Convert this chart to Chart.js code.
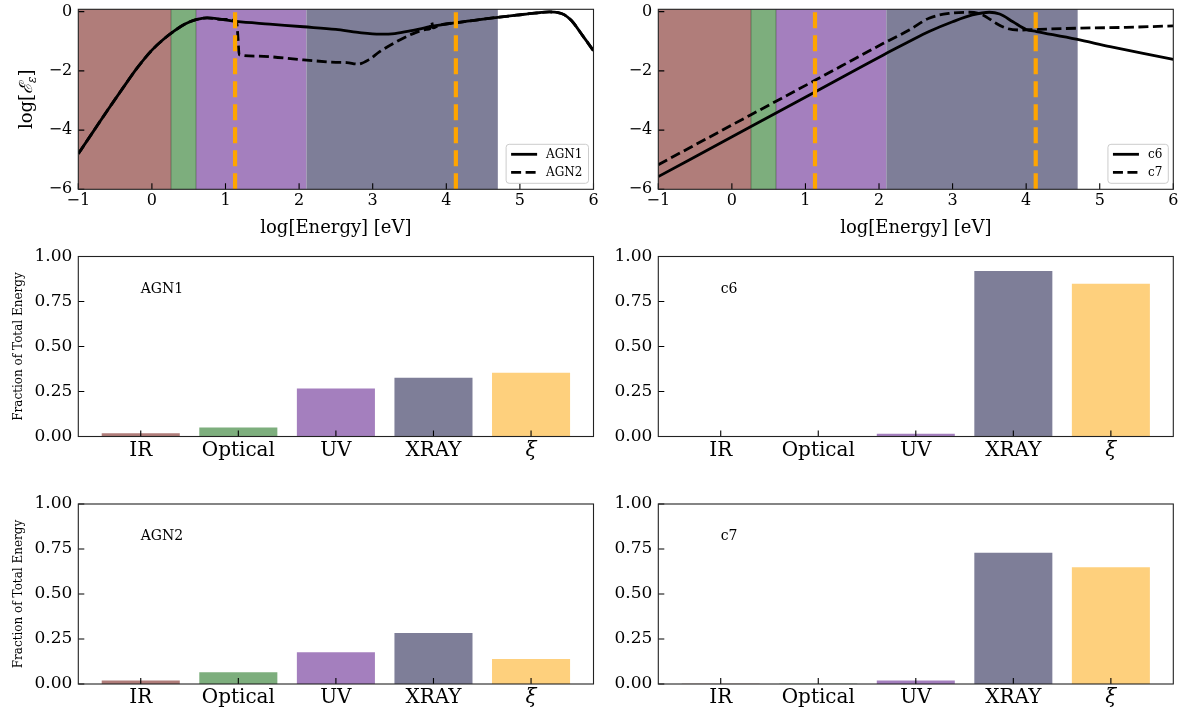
<!DOCTYPE html>
<html>
<head>
<meta charset="utf-8">
<title>SED bands and energy fractions</title>
<script src="https://cdn.jsdelivr.net/npm/chart.js@4.4.1/dist/chart.umd.min.js"></script>
<style>
  body { margin: 0; background: #fff; }
  #figure { position: relative; width: 1182px; height: 714px; overflow: hidden; }
  #figure canvas { position: absolute; }
</style>
</head>
<body>
<div id="figure">
  <canvas id="sedAgn" width="600" height="245" style="left:0;top:0"></canvas>
  <canvas id="sedCloudy" width="592" height="245" style="left:590px;top:0"></canvas>
  <canvas id="fracAgn1" width="600" height="245" style="left:0;top:245px"></canvas>
  <canvas id="fracC6" width="592" height="245" style="left:590px;top:245px"></canvas>
  <canvas id="fracAgn2" width="600" height="224" style="left:0;top:490px"></canvas>
  <canvas id="fracC7" width="592" height="224" style="left:590px;top:490px"></canvas>
</div>
<script>
const SERIF = '"DejaVu Serif", "Liberation Serif", serif'

const energyTicks = [-1, 0, 1, 2, 3, 4, 5, 6]
const sedTicks = [-6, -4, -2, 0]
const fractionTicks = [0, 0.25, 0.5, 0.75, 1]
const energyRange = [-1, 6]
const sedRange = [-6, 0.08]

const bandNames = ['IR', 'Optical', 'UV', 'XRAY', 'ξ']
const bandColors = ['#b07d7a', '#7dae7d', '#a47fbe', '#7e7e98', '#fed07d']
// band limits in log eV: IR | Optical | UV | XRAY
const bandEdges = [-1, 0.26, 0.6, 2.1, 4.7]
// ionisation parameter window
const xiLimits = [1.13, 4.13]

const agn1Energy = [-1.0, -0.8, -0.6, -0.4, -0.2, 0.0, 0.15, 0.3, 0.45, 0.6, 0.75, 0.95, 1.15, 1.6, 2.06, 2.5, 2.8, 3.1, 3.3, 3.55, 3.8, 4.14, 4.45, 4.7, 4.95, 5.2, 5.4, 5.52, 5.6, 5.7, 5.85, 6.0]
const agn1Flux = [-4.80, -4.06, -3.32, -2.60, -1.90, -1.30, -0.95, -0.66, -0.42, -0.27, -0.21, -0.26, -0.33, -0.42, -0.51, -0.60, -0.70, -0.76, -0.74, -0.63, -0.50, -0.37, -0.27, -0.19, -0.12, -0.05, -0.01, -0.03, -0.10, -0.30, -0.80, -1.32]

const agn2Energy = [-1.0, -0.8, -0.6, -0.4, -0.2, 0.0, 0.15, 0.3, 0.45, 0.6, 0.75, 0.95, 1.15, 1.17, 1.185, 1.4, 2.06, 2.5, 2.65, 2.8, 2.95, 3.09, 3.32, 3.55, 3.73, 3.78, 3.8, 3.82, 3.9, 4.14, 4.45, 4.7, 4.95, 5.2, 5.4, 5.52, 5.6, 5.7, 5.85, 6.0]
const agn2Flux = [-4.80, -4.06, -3.32, -2.60, -1.90, -1.30, -0.95, -0.66, -0.42, -0.27, -0.21, -0.26, -0.33, -0.90, -1.45, -1.50, -1.63, -1.71, -1.72, -1.77, -1.62, -1.36, -1.02, -0.74, -0.60, -0.57, -0.34, -0.55, -0.46, -0.37, -0.27, -0.19, -0.12, -0.05, -0.01, -0.03, -0.10, -0.30, -0.80, -1.32]

const c6Energy = [-1.0, 0.26, 1.13, 2.06, 2.41, 2.68, 3.0, 3.27, 3.5, 3.64, 3.82, 4.0, 4.14, 4.68, 5.14, 5.59, 6.0]
const c6Flux = [-5.57, -3.88, -2.71, -1.46, -1.01, -0.67, -0.34, -0.11, -0.02, -0.08, -0.34, -0.60, -0.67, -0.93, -1.18, -1.41, -1.61]

const c7Energy = [-1.0, 0.26, 1.13, 2.06, 2.41, 2.68, 2.95, 3.23, 3.41, 3.59, 3.73, 3.91, 4.14, 4.68, 5.36, 6.0]
const c7Flux = [-5.17, -3.48, -2.32, -1.07, -0.62, -0.22, -0.06, -0.02, -0.11, -0.39, -0.56, -0.62, -0.60, -0.56, -0.53, -0.48]

const agn1Fraction = [0.018, 0.050, 0.266, 0.327, 0.354]
const c6Fraction = [0.001, 0.001, 0.015, 0.919, 0.849]
const agn2Fraction = [0.020, 0.065, 0.176, 0.284, 0.139]
const c7Fraction = [0.001, 0.001, 0.020, 0.729, 0.649]

Chart.defaults.font.family = SERIF
Chart.defaults.color = '#000'

const minus = v => String(v).replace('-', '\u2212')

// pin the plot box to fixed pixel edges inside each canvas
function boxLayout(canvas, area){
    return {
        padding: {top: area.top, right: canvas.width - area.right, left: 0, bottom: 0},
        yFit: scale => {
            scale.width = area.left
            scale.paddingTop = scale.paddingBottom = 0
        },
        xFit: scale => {
            scale.height = canvas.height - area.bottom
            scale.paddingLeft = scale.paddingRight = 0
        }
    }
}

const frameAndTicks = {
    id: 'frameAndTicks',
    afterDatasetsDraw(chart){
        const {ctx, chartArea: a, scales} = chart
        ctx.save()
        ctx.strokeStyle = '#000'
        ctx.lineWidth = 1.1
        ctx.beginPath()
        scales.x.ticks.forEach(t => {
            const px = scales.x.getPixelForValue(t.value)
            ctx.moveTo(px, a.bottom)
            ctx.lineTo(px, a.bottom - 6)
        })
        scales.y.ticks.forEach(t => {
            const py = scales.y.getPixelForValue(t.value)
            ctx.moveTo(a.left, py)
            ctx.lineTo(a.left + 6, py)
        })
        ctx.stroke()
        ctx.strokeStyle = '#222'
        ctx.strokeRect(a.left, a.top, a.right - a.left, a.bottom - a.top)
        ctx.restore()
    }
}

const bandShading = {
    id: 'bandShading',
    beforeDatasetsDraw(chart){
        const {ctx, chartArea: a, scales: {x}} = chart
        ctx.save()
        for(let i = 0; i < bandEdges.length - 1; i++){
            const x0 = x.getPixelForValue(bandEdges[i])
            const x1 = x.getPixelForValue(bandEdges[i + 1])
            ctx.fillStyle = bandColors[i]
            ctx.fillRect(x0, a.top, x1 - x0, a.bottom - a.top)
        }
        // thin edges around the optical strip
        ctx.strokeStyle = 'rgba(40, 60, 40, 0.55)'
        ctx.lineWidth = 0.8
        ctx.beginPath();
        [bandEdges[1], bandEdges[2]].forEach(e => {
            const px = x.getPixelForValue(e)
            ctx.moveTo(px, a.top)
            ctx.lineTo(px, a.bottom)
        })
        ctx.stroke()
        ctx.restore()
    }
}

const insetLegend = {
    id: 'insetLegend',
    afterDraw(chart){
        const {ctx, chartArea: a} = chart
        const items = chart.data.datasets.filter(d => d.label)
        ctx.save()
        ctx.font = `12px ${SERIF}`
        const textWidth = Math.max(...items.map(d => ctx.measureText(d.label).width))
        const w = 40 + textWidth + 6
        const h = 39
        const left = a.right - 5 - w
        const top = a.bottom - 6 - h
        ctx.beginPath()
        ctx.roundRect(left, top, w, h, 3)
        ctx.fillStyle = 'rgba(255, 255, 255, 0.85)'
        ctx.fill()
        ctx.strokeStyle = '#cccccc'
        ctx.lineWidth = 1
        ctx.stroke()
        items.forEach((d, i) => {
            const y = top + 10 + i * 18
            ctx.beginPath()
            ctx.setLineDash(d.borderDash || [])
            ctx.strokeStyle = '#000'
            ctx.lineWidth = d.borderWidth
            ctx.moveTo(left + 5, y)
            ctx.lineTo(left + 31, y)
            ctx.stroke()
            ctx.setLineDash([])
            ctx.fillStyle = '#000'
            ctx.textBaseline = 'middle'
            ctx.fillText(d.label, left + 40, y + 1)
        })
        ctx.restore()
    }
}

// log[E_eps] with a subscript, drawn by hand
const sedYTitle = {
    id: 'sedYTitle',
    afterDraw(chart){
        const {ctx, chartArea: a} = chart
        const parts = [
            {text: 'log[', font: `18px ${SERIF}`, dy: 0},
            {text: 'ℰ', font: `italic 18px ${SERIF}`, dy: 0},
            {text: 'ε', font: `italic 12px ${SERIF}`, dy: 4},
            {text: ']', font: `18px ${SERIF}`, dy: 0}
        ]
        ctx.save()
        const widths = parts.map(p => { ctx.font = p.font; return ctx.measureText(p.text).width })
        const total = widths.reduce((s, w) => s + w, 0)
        ctx.translate(32, (a.top + a.bottom) / 2)
        ctx.rotate(-Math.PI / 2)
        ctx.fillStyle = '#000'
        ctx.textBaseline = 'alphabetic'
        let cursor = -total / 2
        parts.forEach((p, i) => {
            ctx.font = p.font
            ctx.fillText(p.text, cursor, p.dy)
            cursor += widths[i]
        })
        ctx.restore()
    }
}

function panelLabel(text){
    return {
        id: 'panelLabel',
        afterDatasetsDraw(chart){
            const {ctx, scales: {x, y}} = chart
            ctx.save()
            ctx.font = `14px ${SERIF}`
            ctx.fillStyle = '#000'
            ctx.textBaseline = 'alphabetic'
            ctx.fillText(text, x.getPixelForValue(0), y.getPixelForValue(0.8))
            ctx.restore()
        }
    }
}

function renderSedChart(canvasId, area, series, showYTitle){
    const canvas = document.getElementById(canvasId)
    const box = boxLayout(canvas, area)

    const xiLines = xiLimits.map(e => ({
        data: [{x: e, y: sedRange[0]}, {x: e, y: sedRange[1]}],
        borderColor: '#ffa500',
        borderWidth: 4.2,
        borderDash: [16, 7],
        borderCapStyle: 'butt',
        pointRadius: 0,
        order: 0
    }))

    const curves = series.map(s => ({
        label: s.label,
        data: s.energy.map((e, i) => ({x: e, y: s.flux[i]})),
        borderColor: '#000',
        borderWidth: 2.8,
        borderDash: s.dashed ? [10, 4.5] : [],
        cubicInterpolationMode: 'monotone',
        pointRadius: 0,
        order: 1
    }))

    const plugins = [bandShading, frameAndTicks, insetLegend]
    if(showYTitle) plugins.push(sedYTitle)

    return new Chart(canvas, {
        type: 'line',
        data: {datasets: [...xiLines, ...curves]},
        plugins,
        options: {
            responsive: false,
            animation: false,
            layout: {padding: box.padding},
            scales: {
                x: {
                    type: 'linear',
                    min: energyRange[0],
                    max: energyRange[1],
                    afterBuildTicks: scale => { scale.ticks = energyTicks.map(value => ({value})) },
                    afterFit: box.xFit,
                    grid: {display: false, drawTicks: false},
                    border: {display: false},
                    ticks: {font: {size: 16}, padding: 2, maxRotation: 0, callback: minus},
                    title: {
                        display: true,
                        text: 'log[Energy] [eV]',
                        font: {size: 18},
                        padding: {top: 0, bottom: 6}
                    }
                },
                y: {
                    type: 'linear',
                    min: sedRange[0],
                    max: sedRange[1],
                    afterBuildTicks: scale => { scale.ticks = sedTicks.map(value => ({value})) },
                    afterFit: box.yFit,
                    grid: {display: false, drawTicks: false},
                    border: {display: false},
                    ticks: {font: {size: 16}, padding: 6, callback: minus}
                }
            },
            plugins: {legend: {display: false}, tooltip: {enabled: false}}
        }
    })
}

function renderFractionChart(canvasId, area, values, label, showYTitle){
    const canvas = document.getElementById(canvasId)
    const box = boxLayout(canvas, area)

    return new Chart(canvas, {
        type: 'bar',
        data: {
            datasets: [{
                data: values.map((v, i) => ({x: i, y: v})),
                backgroundColor: bandColors,
                borderWidth: 0,
                categoryPercentage: 1,
                barPercentage: 0.8
            }]
        },
        plugins: [frameAndTicks, panelLabel(label)],
        options: {
            responsive: false,
            animation: false,
            layout: {padding: box.padding},
            scales: {
                x: {
                    type: 'linear',
                    offset: false,
                    min: -0.64,
                    max: 4.64,
                    afterBuildTicks: scale => { scale.ticks = bandNames.map((_, value) => ({value})) },
                    afterFit: box.xFit,
                    grid: {display: false, drawTicks: false, offset: false},
                    border: {display: false},
                    ticks: {
                        padding: 2,
                        maxRotation: 0,
                        autoSkip: false,
                        font: ctx => ({size: 20, style: ctx.tick && ctx.tick.value === 4 ? 'italic' : 'normal'}),
                        callback: v => bandNames[v]
                    }
                },
                y: {
                    type: 'linear',
                    min: 0,
                    max: 1,
                    afterBuildTicks: scale => { scale.ticks = fractionTicks.map(value => ({value})) },
                    afterFit: box.yFit,
                    grid: {display: false, drawTicks: false},
                    border: {display: false},
                    ticks: {font: {size: 17}, padding: 6, callback: v => v.toFixed(2)},
                    title: {
                        display: showYTitle,
                        text: 'Fraction of Total Energy',
                        font: {size: 12},
                        padding: {top: 12, bottom: 0}
                    }
                }
            },
            plugins: {legend: {display: false}, tooltip: {enabled: false}}
        }
    })
}

document.addEventListener('DOMContentLoaded', () => {
    renderSedChart('sedAgn', {left: 78.3, top: 9.3, right: 593.5, bottom: 189.3}, [
        {label: 'AGN1', energy: agn1Energy, flux: agn1Flux, dashed: false},
        {label: 'AGN2', energy: agn2Energy, flux: agn2Flux, dashed: true}
    ], true)
    renderSedChart('sedCloudy', {left: 68.3, top: 9.3, right: 583.3, bottom: 189.3}, [
        {label: 'c6', energy: c6Energy, flux: c6Flux, dashed: false},
        {label: 'c7', energy: c7Energy, flux: c7Flux, dashed: true}
    ], false)

    renderFractionChart('fracAgn1', {left: 78.3, top: 11.5, right: 593.5, bottom: 191.5}, agn1Fraction, 'AGN1', true)
    renderFractionChart('fracC6', {left: 68.3, top: 11.5, right: 583.3, bottom: 191.5}, c6Fraction, 'c6', false)
    renderFractionChart('fracAgn2', {left: 78.3, top: 14, right: 593.5, bottom: 194}, agn2Fraction, 'AGN2', true)
    renderFractionChart('fracC7', {left: 68.3, top: 14, right: 583.3, bottom: 194}, c7Fraction, 'c7', false)
})
</script>
</body>
</html>
